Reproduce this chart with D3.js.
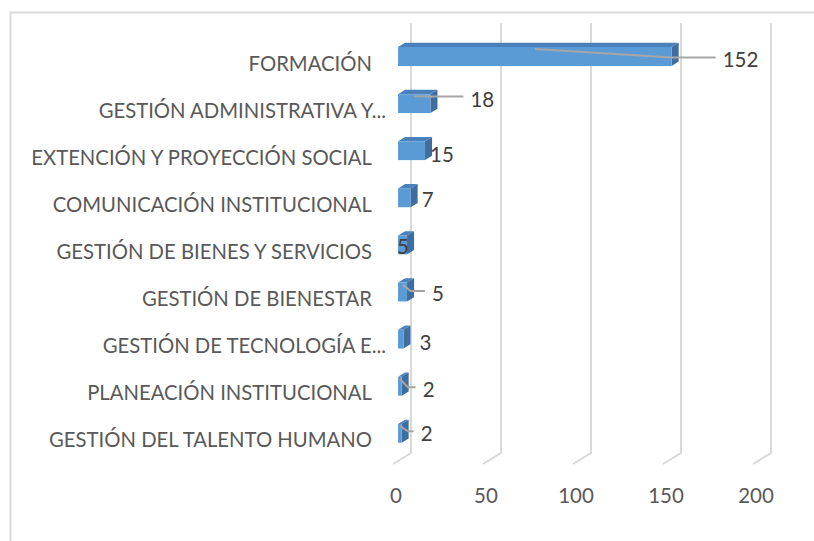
<!DOCTYPE html>
<html><head><meta charset="utf-8">
<script src="https://cdn.jsdelivr.net/npm/d3@7"></script>
<style>body{margin:0;background:#fff;} svg{display:block}</style>
</head><body>
<svg id="c" width="814" height="541"></svg>
<script>
// ---- data ----
const categories = [
  "FORMACIÓN",
  "GESTIÓN ADMINISTRATIVA Y...",
  "EXTENCIÓN Y PROYECCIÓN SOCIAL",
  "COMUNICACIÓN INSTITUCIONAL",
  "GESTIÓN DE BIENES Y SERVICIOS",
  "GESTIÓN DE BIENESTAR",
  "GESTIÓN DE TECNOLOGÍA E...",
  "PLANEACIÓN INSTITUCIONAL",
  "GESTIÓN DEL TALENTO HUMANO"
];
const values = [152, 18, 15, 7, 5, 5, 3, 2, 2];
const tickValues = [0, 50, 100, 150, 200];

// ---- layout (label nudges in px, leader flags) ----
const labelNudge = [[51,3],[40,-5],[5,3],[11,1],[-10,1],[25,1],[16,3],[21,3],[19,0]];
const hasLeader = [true, true, false, false, false, true, false, true, true];

const FONT = "Lato, 'Liberation Sans', Arial, sans-serif";
const svg = d3.select("#c");

// chart border
svg.append("rect").attr("x", 10.5).attr("y", 12.5).attr("width", 900).attr("height", 700)
  .attr("fill", "none").attr("stroke", "#d9d9d9").attr("stroke-width", 2);

// 3D projection: back wall value scale + depth vector
const xBack = d3.scaleLinear().domain([0, 200]).range([411, 771]);
const yBand = d3.scaleBand().domain(categories).range([25, 449]).paddingInner(0.6).paddingOuter(0.3);
const wallTop = 23, floorY = 453;
const DX = -18, DY = 11;
const tB = 0.33, tF = 0.72; // bar depth (fraction from back wall)
const P = (v, y, t) => [xBack(v) + DX * t, y + DY * t];
const poly = pts => pts.map(p => p.join(",")).join(" ");

// gridlines
svg.append("g").selectAll("path").data(tickValues).join("path")
  .attr("d", v => `M${xBack(v)},${wallTop}V${floorY}L${xBack(v) + DX},${floorY + DY}`)
  .attr("fill", "none").attr("stroke", "#d9d9d9").attr("stroke-width", 2);

// tick labels
svg.append("g").selectAll("text").data(tickValues).join("text")
  .attr("x", v => xBack(v) + DX + 3).attr("y", 495)
  .attr("text-anchor", "middle").attr("dominant-baseline", "central")
  .attr("font-family", FONT).attr("font-size", 20.5).attr("fill", "#595959")
  .text(v => v);

// bars
const bars = svg.append("g").selectAll("g").data(categories).join("g");
bars.each(function(c, i) {
  const g = d3.select(this);
  const v = values[i];
  const top = yBand(c), bot = yBand(c) + yBand.bandwidth();
  g.append("polygon").attr("points", poly([P(0, top, tB), P(v, top, tB), P(v, top, tF), P(0, top, tF)]))
    .attr("fill", "#4a80bb");
  g.append("polygon").attr("points", poly([P(v, top, tF), P(v, top, tB), P(v, bot, tB), P(v, bot, tF)]))
    .attr("fill", "#3e6d9e");
  g.append("polygon").attr("points", poly([P(0, top, tF), P(v, top, tF), P(v, bot, tF), P(0, bot, tF)]))
    .attr("fill", "#5b9bd5");
});

// category labels
svg.append("g").selectAll("text").data(categories).join("text")
  .attr("x", d => d.endsWith("...") ? 386 : 372)
  .attr("y", d => yBand(d) + yBand.bandwidth() / 2 + 14)
  .attr("text-anchor", "end").attr("dominant-baseline", "central")
  .attr("font-family", FONT).attr("font-size", 20.3).attr("fill", "#595959")
  .text(d => d);

// data labels + leader lines
const dl = svg.append("g");
categories.forEach((c, i) => {
  const v = values[i];
  const fr = P(v, yBand(c) + yBand.bandwidth() / 2, tF);
  const lx = fr[0] + labelNudge[i][0], ly = fr[1] + labelNudge[i][1];
  if (hasLeader[i]) {
    const s = P(v / 2, yBand(c) + 2, tF);
    const mx = Math.max(fr[0], s[0] + 8);
    dl.append("polyline").attr("points", poly([s, [mx, ly - 2], [lx - 7, ly - 2]]))
      .attr("fill", "none").attr("stroke", "#a6a6a6").attr("stroke-width", 2);
  }
  dl.append("text").attr("x", lx).attr("y", ly)
    .attr("dominant-baseline", "central")
    .attr("font-family", FONT).attr("font-size", 20.5).attr("fill", "#404040")
    .text(v);
});
</script>
</body></html>
